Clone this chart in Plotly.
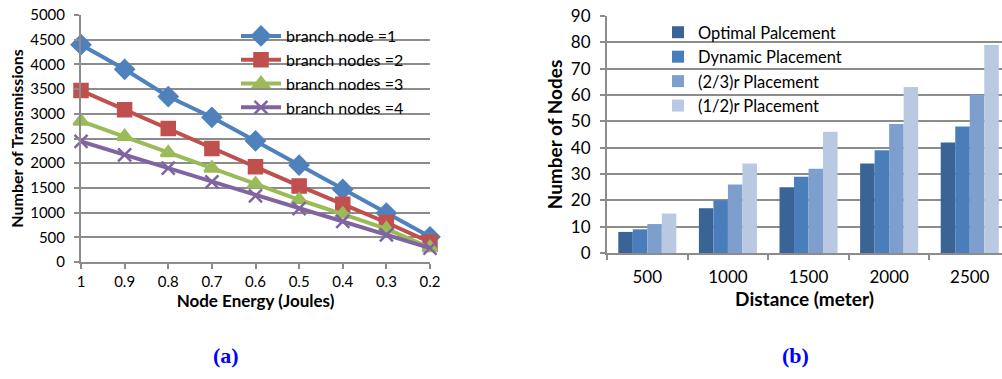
import plotly.graph_objects as go

# ---- Data: chart (a) ----
energy = ["1", "0.9", "0.8", "0.7", "0.6", "0.5", "0.4", "0.3", "0.2"]
branch1 = [4400, 3900, 3350, 2930, 2450, 1960, 1470, 990, 510]
branch2 = [3470, 3080, 2700, 2300, 1930, 1540, 1170, 800, 400]
branch3 = [2850, 2540, 2210, 1900, 1580, 1260, 970, 670, 290]
branch4 = [2440, 2170, 1900, 1620, 1340, 1080, 820, 550, 280]
line_names = ["branch node =1", "branch nodes =2", "branch nodes =3", "branch nodes =4"]

# ---- Data: chart (b) ----
distance = ["500", "1000", "1500", "2000", "2500"]
optimal = [8, 17, 25, 34, 42]
dynamic = [9, 20, 29, 39, 48]
two_thirds = [11, 26, 32, 49, 60]
one_half = [15, 34, 46, 63, 79]
bar_names = ["Optimal Palcement", "Dynamic Placement", "(2/3)r Placement", "(1/2)r Placement"]

W, H = 1002, 379
FONT = "Lato"
GRID = "#8c8c8c"

fig = go.Figure()

line_colors = ["#4F81BD", "#C0504D", "#9BBB59", "#8064A2"]
symbols = ["diamond", "square", "triangle-up", "x-thin-open"]
sizes = [14, 13, 13, 13]
for ys, name, c, s, sz in zip([branch1, branch2, branch3, branch4], line_names, line_colors, symbols, sizes):
    fig.add_trace(go.Scatter(
        x=energy, y=ys, name=name, mode="lines+markers",
        line=dict(color=c, width=4),
        marker=dict(symbol=s, size=sz, color=c, line=dict(color=c, width=2.5)),
        xaxis="x", yaxis="y", legend="legend", cliponaxis=False,
    ))

bar_colors = ["#3B6496", "#4A7EBB", "#7E9FCD", "#B9C9E2"]
for ys, name, c in zip([optimal, dynamic, two_thirds, one_half], bar_names, bar_colors):
    fig.add_trace(go.Bar(
        x=distance, y=ys, name=name, marker=dict(color=c, line=dict(width=0)),
        xaxis="x2", yaxis="y2", legend="legend2",
    ))

def px_x(p):
    return p / W

def px_y(p):
    return (H - p) / H

axis_common = dict(
    automargin=False, showline=True, linecolor=GRID, linewidth=2,
    ticks="outside", ticklen=5, tickcolor=GRID, tickwidth=2,
    ticklabeloverflow="allow",
)

fig.update_layout(
    template="none",
    width=W, height=H,
    margin=dict(l=0, r=0, t=0, b=0, autoexpand=False),
    paper_bgcolor="white", plot_bgcolor="white",
    font=dict(family=FONT, size=15, color="black"),
    barmode="group", bargap=0.28, bargroupgap=0,
    xaxis=dict(
        axis_common, domain=[px_x(81), px_x(430)], anchor="y", type="category",
        range=[0, 8], showgrid=False,
        tickfont=dict(family=FONT, size=15),
        title=dict(text="<b>Node Energy (Joules)</b>", font=dict(family=FONT, size=17), standoff=0),
    ),
    yaxis=dict(
        axis_common, domain=[px_y(262), px_y(15)], anchor="x", range=[0, 5000], dtick=500,
        showgrid=True, gridcolor=GRID, gridwidth=2, zeroline=False,
        tickfont=dict(family=FONT, size=15), ticklabelstandoff=6,
        title=dict(text="<b>Number of Transmissions</b>", font=dict(family=FONT, size=16), standoff=3),
    ),
    xaxis2=dict(
        axis_common, domain=[px_x(607), 1.0], anchor="y2", type="category",
        range=[-0.5, 4.4], showgrid=False, tickson="boundaries",
        tickfont=dict(family=FONT, size=17), ticklabelstandoff=8,
        title=dict(text="<b>Distance (meter)</b>", font=dict(family=FONT, size=19), standoff=3),
    ),
    yaxis2=dict(
        axis_common, domain=[px_y(253), px_y(16)], anchor="x2", range=[0, 90], dtick=10,
        showgrid=True, gridcolor=GRID, gridwidth=2, zeroline=False,
        tickfont=dict(family=FONT, size=17), ticklabelstandoff=6,
        title=dict(text="<b>Number of Nodes</b>", font=dict(family=FONT, size=19), standoff=3),
    ),
    legend=dict(
        x=px_x(236), y=px_y(19), xanchor="left", yanchor="top",
        bgcolor="rgba(0,0,0,0)", borderwidth=0, font=dict(family=FONT, size=16),
        tracegroupgap=0, itemwidth=40,
    ),
    legend2=dict(
        x=px_x(658), y=px_y(15), xanchor="left", yanchor="top",
        bgcolor="rgba(0,0,0,0)", borderwidth=0, font=dict(family=FONT, size=16.5),
        tracegroupgap=0, itemwidth=30,
    ),
    annotations=[
        dict(text="<b>(a)</b>", x=px_x(226), y=px_y(355), xref="paper", yref="paper",
             xanchor="center", yanchor="middle",
             showarrow=False, font=dict(family="Liberation Serif", size=22, color="#0000ff")),
        dict(text="<b>(b)</b>", x=px_x(795), y=px_y(355), xref="paper", yref="paper",
             xanchor="center", yanchor="middle",
             showarrow=False, font=dict(family="Liberation Serif", size=22, color="#0000ff")),
    ],
)

fig.write_html(
    "out.html",
    config={"displayModeBar": False},
    post_script="document.body.style.margin='0px';document.body.style.overflow='hidden';",
)
